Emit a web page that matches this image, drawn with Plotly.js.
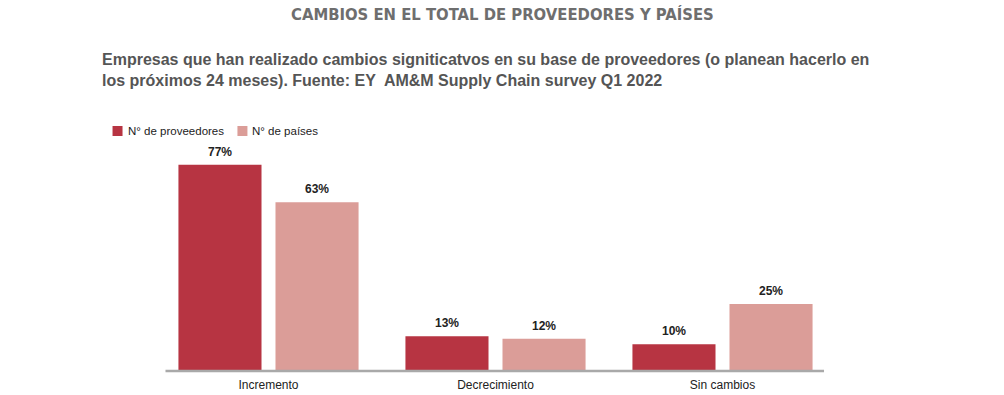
<!DOCTYPE html>
<html>
<head>
<meta charset="utf-8">
<script src="https://cdn.plot.ly/plotly-3.0.1.min.js"></script>
<style>html,body{margin:0;padding:0;background:#fff}#chart{width:1004px;height:395px}</style>
</head>
<body>
<div id="chart"></div>
<script>
const categories = ["Incremento", "Decrecimiento", "Sin cambios"];
const seriesNames = ["N° de proveedores", "N° de países"];
const proveedores = [77, 13, 10];
const paises = [63, 12, 25];
const titleText = "CAMBIOS EN EL TOTAL DE PROVEEDORES Y PAÍSES";
const subtitleLines = ["Empresas que han realizado cambios signiticatvos en su base de proveedores (o planean hacerlo en",
                       "los próximos 24 meses). Fuente: EY  AM&M Supply Chain survey Q1 2022"];
const colors = ["#b73442", "#db9d98"];

const L = 154.5, R = 836, T = 130, B = 371;
const W = 1004, H = 395;
const px = v => (v - L) / (R - L);
const py = v => (B - v) / (B - T);

const labelFont = {family: "Liberation Sans, Arial, sans-serif", size: 12, color: "#222"};
const series = [proveedores, paises];

const traces = series.map((vals, i) => ({
  type: "bar", name: seriesNames[i], x: categories, y: vals,
  marker: {color: colors[i]}, hoverinfo: "skip", showlegend: false
}));

const annotations = [
  {text: "<b>" + titleText + "</b>", xref: "paper", yref: "paper", x: px(502), xanchor: "center",
   y: py(15), yanchor: "middle", showarrow: false,
   font: {family: "DejaVu Sans Condensed, Liberation Sans Narrow, sans-serif", size: 16.5, color: "#6e6e6e"}},
  {text: "<b>" + subtitleLines[0] + "</b>", xref: "paper", yref: "paper", x: px(99), xanchor: "left",
   y: py(60), yanchor: "middle", showarrow: false,
   font: {family: "Liberation Sans, Arial, sans-serif", size: 16, color: "#555"}},
  {text: "<b>" + subtitleLines[1] + "</b>", xref: "paper", yref: "paper", x: px(99), xanchor: "left",
   y: py(80), yanchor: "middle", showarrow: false,
   font: {family: "Liberation Sans, Arial, sans-serif", size: 16, color: "#555"}}
];
// bar value labels
const slotShift = 48.5;
series.forEach((vals, i) => {
  vals.forEach((v, j) => {
    annotations.push({text: "<b>" + v + "%</b>", xref: "x", yref: "y", x: categories[j], y: v,
      xshift: (i === 0 ? -1 : 1) * slotShift, yshift: 13, yanchor: "middle", xanchor: "center",
      showarrow: false, font: labelFont});
  });
});
// legend
const legendX = [112, 237];
const shapes = [
  {type: "line", xref: "paper", yref: "paper", x0: px(165), x1: px(824),
   y0: 0, y1: 0, line: {color: "#a9a9a9", width: 2.5}, layer: "above"}
];
seriesNames.forEach((n, i) => {
  shapes.push({type: "rect", xref: "paper", yref: "paper", x0: px(legendX[i]), x1: px(legendX[i] + 10),
    y0: py(136), y1: py(126), fillcolor: colors[i], line: {width: 0}});
  annotations.push({text: n, xref: "paper", yref: "paper", x: px(legendX[i] + 13), xanchor: "left",
    y: py(131), yanchor: "middle", showarrow: false,
    font: {family: "Liberation Sans, Arial, sans-serif", size: 11.5, color: "#222"}});
});

const layout = {
  width: W, height: H,
  margin: {l: L, r: W - R, t: T, b: H - B, pad: 0},
  paper_bgcolor: "#fff", plot_bgcolor: "#fff",
  barmode: "group", bargap: 0.145, bargroupgap: 0.144,
  showlegend: false,
  xaxis: {showgrid: false, zeroline: false, showline: false, ticks: "", ticklabelstandoff: 5,
          tickfont: {family: "Liberation Sans, Arial, sans-serif", size: 12, color: "#222"}},
  yaxis: {range: [0, 90], visible: false, showgrid: false, zeroline: false},
  shapes: shapes,
  annotations: annotations
};

Plotly.newPlot("chart", traces, layout, {displayModeBar: false, staticPlot: true});
</script>
</body>
</html>
